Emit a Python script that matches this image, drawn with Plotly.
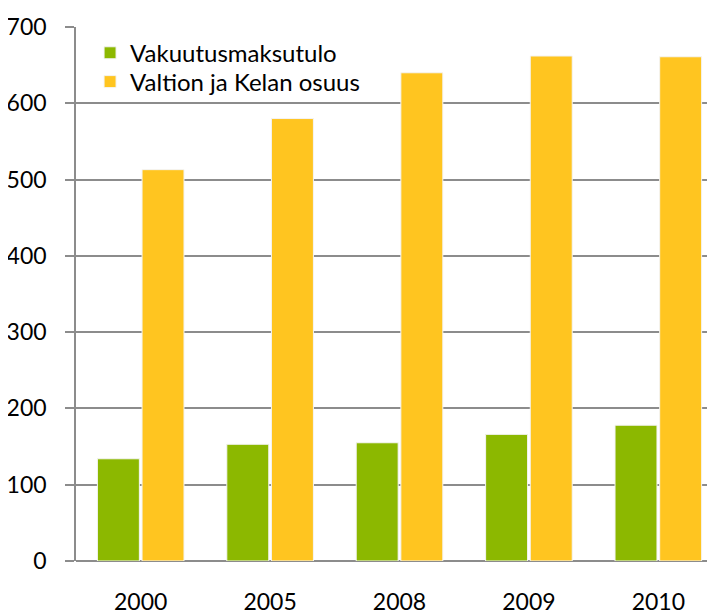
import plotly.graph_objects as go

years = ["2000", "2005", "2008", "2009", "2010"]
vakuutus = [134, 153, 155, 166, 178]
valtio = [513, 580, 640, 662, 661]
series_names = ["Vakuutusmaksutulo", "Valtion ja Kelan osuus"]
y_ticks = [0, 100, 200, 300, 400, 500, 600, 700]

GREEN = "#8CB800"
YELLOW = "#FFC520"
GRID = "#8C8C8C"
FONT = "Lato"

fig = go.Figure()
fig.add_trace(go.Bar(x=years, y=vakuutus, name=series_names[0], legend="legend",
                     marker=dict(color=GREEN, line=dict(color="#F4F4F4", width=1))))
fig.add_trace(go.Bar(x=years, y=valtio, name=series_names[1], legend="legend2",
                     marker=dict(color=YELLOW, line=dict(color="#F4F4F4", width=1))))

legend_common = dict(xanchor="left", yanchor="middle", bgcolor="rgba(0,0,0,0)",
                     font=dict(size=24, family=FONT), itemclick=False)

fig.update_layout(
    width=707, height=607,
    margin=dict(l=68, r=0, t=19, b=54, autoexpand=False),
    paper_bgcolor="white", plot_bgcolor="white",
    barmode="group", bargap=0.31, bargroupgap=0.06,
    font=dict(family=FONT, size=23, color="#000000"),
    showlegend=True,
    legend=dict(x=0.022, y=0.951, **legend_common),
    legend2=dict(x=0.022, y=0.897, **legend_common),
)
fig.update_xaxes(
    type="category", range=[-0.5, 4.438], automargin=False,
    showgrid=False, showline=False, ticks="", zeroline=False,
    ticklabelstandoff=25,
    tickfont=dict(size=23, family=FONT),
)
fig.update_yaxes(
    range=[0, 700], tickvals=y_ticks, automargin=False,
    showgrid=True, gridcolor=GRID, gridwidth=1.5,
    zeroline=True, zerolinecolor=GRID, zerolinewidth=1.5,
    showline=True, linecolor=GRID, linewidth=1.5,
    ticks="outside", ticklen=9, tickcolor=GRID, tickwidth=1.5,
    ticklabelstandoff=14,
    tickfont=dict(size=23, family=FONT),
)

fig.write_html("out.html")
